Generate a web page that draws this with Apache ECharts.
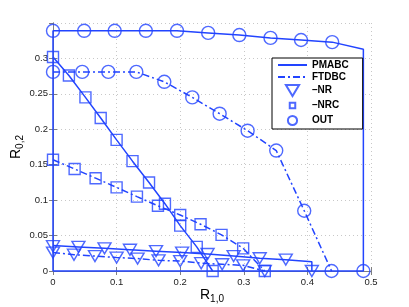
<!DOCTYPE html>
<html>
<head>
<meta charset="utf-8">
<script src="https://cdn.jsdelivr.net/npm/echarts@6/dist/echarts.min.js"></script>
<style>html,body{margin:0;padding:0;background:#fff;}#c{width:409px;height:307px;}</style>
</head>
<body>
<div id="c"></div>
<script>
// ---- data (R_{1,0}, R_{0,2}) ----
const xTicks = [0, 0.1, 0.2, 0.3, 0.4, 0.5];
const yTicks = [0, 0.05, 0.1, 0.15, 0.2, 0.25, 0.3];

// PMABC curves
const pmabcOutCurve = [[0,0],[0,0.339],[0.049,0.339],[0.097,0.339],[0.146,0.339],[0.195,0.339],[0.244,0.336],[0.293,0.333],[0.342,0.329],[0.39,0.326],[0.439,0.323],[0.488,0.313],[0.488,0],[0,0]];
const pmabcOutMarks = [[0,0.339],[0.049,0.339],[0.097,0.339],[0.146,0.339],[0.195,0.339],[0.244,0.336],[0.293,0.333],[0.342,0.329],[0.39,0.326],[0.439,0.323],[0.488,0]];
const pmabcNrc = [[0,0.302],[0.025,0.276],[0.051,0.245],[0.075,0.216],[0.1,0.185],[0.125,0.155],[0.151,0.125],[0.176,0.095],[0.2,0.064],[0.226,0.034],[0.251,0]];
const pmabcNrCurve = [[0,0.036],[0.04,0.034],[0.081,0.032],[0.121,0.030],[0.162,0.028],[0.203,0.026],[0.243,0.024],[0.284,0.021],[0.325,0.018],[0.366,0.016],[0.407,0.013],[0.407,0]];
const pmabcNrMarks = [[0,0.035],[0.04,0.034],[0.081,0.032],[0.121,0.030],[0.162,0.028],[0.203,0.026],[0.243,0.024],[0.284,0.021],[0.325,0.018],[0.366,0.016],[0.407,0]];

// FTDBC curves
const ftdbcOut = [[0,0.281],[0.046,0.281],[0.087,0.281],[0.131,0.281],[0.175,0.267],[0.219,0.245],[0.262,0.222],[0.306,0.198],[0.351,0.170],[0.395,0.085],[0.438,0]];
const ftdbcNrc = [[0,0.157],[0.034,0.144],[0.067,0.131],[0.1,0.118],[0.132,0.105],[0.165,0.092],[0.2,0.079],[0.232,0.066],[0.265,0.051],[0.299,0.032],[0.333,0]];
const ftdbcNr = [[0,0.026],[0.033,0.023],[0.066,0.021],[0.1,0.019],[0.133,0.0175],[0.166,0.015],[0.2,0.014],[0.233,0.011],[0.266,0.0095],[0.299,0.008],[0.333,0]];

const legendNames = ['PMABC', 'FTDBC', '–NR', '–NRC', 'OUT'];

// ---- styling ----
const BLUE = '#2244ff';
const FONT = 'Liberation Sans';
const dashDot = [7, 3, 2, 3];
const triPath = 'path://M0,0L12,0L6,10Z';
const legendIcons = {
  '–NR': 'path://M0,0L12,0L6,10Z',
  '–NRC': 'path://M0,0M14,14M3.5,3.5L10.5,3.5L10.5,10.5L3.5,10.5Z',
  'OUT': 'path://M0,0M12,12M6,1A5,5,0,1,1,5.99,1Z'
};

function lineSeries(name, data, dashed) {
  return {
    name: name, type: 'line', data: data, symbol: 'none', clip: false, z: 3,
    lineStyle: { color: BLUE, width: 1.5, type: dashed ? dashDot : 'solid' },
    itemStyle: { color: BLUE, opacity: 0 }
  };
}
function markSeries(name, data, symbol, size) {
  return {
    name: name, type: 'scatter', data: data, symbol: symbol, symbolSize: size, clip: false, z: 4,
    itemStyle: { color: 'rgba(255,255,255,0)', borderColor: BLUE, borderWidth: 1.4 }
  };
}

const chart = echarts.init(document.getElementById('c'), null, { renderer: 'canvas' });
const gray = '#7f7f7f';
const axisCommon = {
  type: 'value',
  axisLine: { show: true, lineStyle: { color: gray, width: 1 } },
  axisTick: { show: true, inside: true, length: 4, lineStyle: { color: gray } }
};
const nameRich = {
  r: { fontFamily: FONT, fontSize: 14, lineHeight: 16, verticalAlign: 'top', color: '#000' },
  s: { fontFamily: FONT, fontSize: 10, lineHeight: 12, padding: [10, 0, 0, 0], verticalAlign: 'bottom', color: '#000' }
};

chart.setOption({
  animation: false,
  backgroundColor: '#fff',
  grid: { left: 53, right: 38, top: 23, bottom: 36, containLabel: false, outerBoundsMode: 'none' },
  legend: {
    data: legendNames.map(n => legendIcons[n] ? { name: n, icon: legendIcons[n] } : { name: n }),
    orient: 'vertical',
    left: 272, top: 58,
    backgroundColor: '#fff',
    borderColor: '#000', borderWidth: 1,
    padding: [2, 14, 2, 5],
    itemWidth: 29, itemHeight: 11, itemGap: 2,
    symbolKeepAspect: true,
    textStyle: { fontFamily: FONT, fontSize: 10, fontWeight: 'bold', color: '#000' }
  },
  xAxis: [
    Object.assign({}, axisCommon, {
      min: xTicks[0], max: xTicks[xTicks.length - 1], interval: 0.1,
      axisLabel: { margin: 6, fontFamily: FONT, fontSize: 9.5, color: '#222' },
      splitLine: { show: true, lineStyle: { color: '#c8c8c8', type: [1, 3], width: 1 } },
      name: '{r|R}{s|1,0}', nameLocation: 'middle', nameGap: 17, nameMoveOverlap: false,
      nameTextStyle: { rich: nameRich }
    }),
    Object.assign({}, axisCommon, {
      position: 'top', min: 0, max: 0.5, interval: 0.1,
      axisLabel: { show: false }, splitLine: { show: false }
    })
  ],
  yAxis: [
    Object.assign({}, axisCommon, {
      min: yTicks[0], max: 0.35, interval: 0.05,
      axisLabel: { margin: 5, fontFamily: FONT, fontSize: 9.5, color: '#222', showMaxLabel: false,
        formatter: v => yTicks.some(t => Math.abs(t - v) < 1e-9) ? String(+v.toFixed(2)) : '' },
      splitLine: { show: true, lineStyle: { color: '#c8c8c8', type: [1, 3], width: 1 } },
      name: '{r|R}{s|0,2}', nameLocation: 'middle', nameGap: 28, nameRotate: 90, nameMoveOverlap: false,
      nameTextStyle: { rich: nameRich }
    }),
    Object.assign({}, axisCommon, {
      position: 'right', min: 0, max: 0.35, interval: 0.05,
      axisLabel: { show: false }, splitLine: { show: false }
    })
  ],
  series: [
    lineSeries('PMABC', pmabcOutCurve, false),
    lineSeries('PMABC', pmabcNrc, false),
    lineSeries('PMABC', pmabcNrCurve, false),
    lineSeries('FTDBC', ftdbcOut, true),
    lineSeries('FTDBC', ftdbcNrc, true),
    lineSeries('FTDBC', ftdbcNr, true),
    markSeries('–NR', pmabcNrMarks, triPath, [13, 11]),
    markSeries('–NR', ftdbcNr, triPath, [13, 11]),
    markSeries('–NRC', pmabcNrc, 'rect', 11),
    markSeries('–NRC', ftdbcNrc, 'rect', 11),
    markSeries('OUT', pmabcOutMarks, 'circle', 13),
    markSeries('OUT', ftdbcOut, 'circle', 13)
  ]
});
</script>
</body>
</html>
